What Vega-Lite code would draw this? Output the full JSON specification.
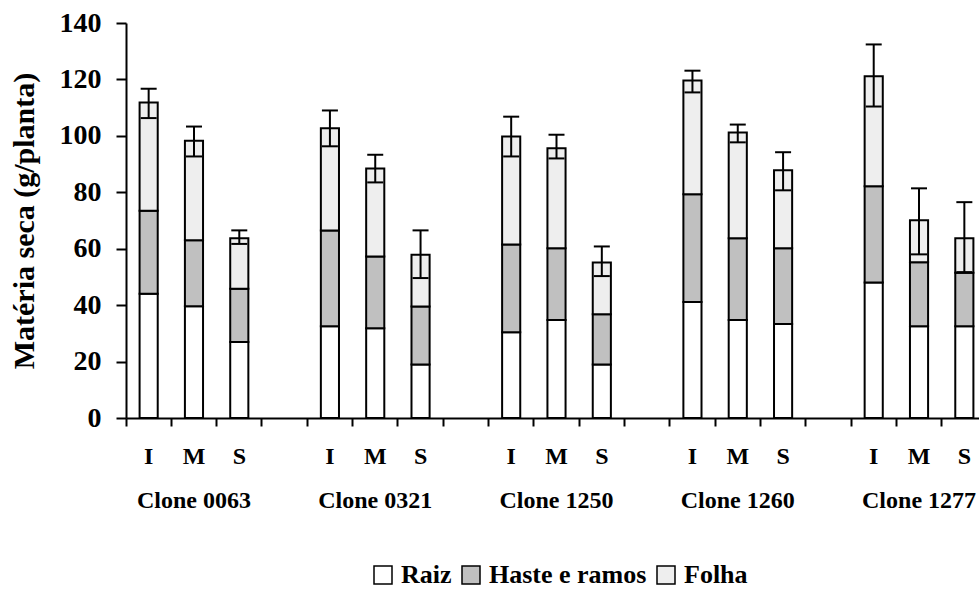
{
  "$schema": "https://vega.github.io/schema/vega-lite/v6.json",
  "width": 853,
  "height": 395,
  "autosize": {"type": "none"},
  "padding": {"left": 126, "top": 23, "right": 0, "bottom": 174},
  "background": "white",
  "config": {"view": {"stroke": null}, "font": "Liberation Serif"},
  "datasets": {
    "bars": [
      {"cat": "0063-I", "parte": "Raiz", "ord": 1, "valor": 44.0},
      {"cat": "0063-I", "parte": "Haste e ramos", "ord": 2, "valor": 29.5},
      {"cat": "0063-I", "parte": "Folha", "ord": 3, "valor": 38.3},
      {"cat": "0063-M", "parte": "Raiz", "ord": 1, "valor": 39.6},
      {"cat": "0063-M", "parte": "Haste e ramos", "ord": 2, "valor": 23.4},
      {"cat": "0063-M", "parte": "Folha", "ord": 3, "valor": 35.3},
      {"cat": "0063-S", "parte": "Raiz", "ord": 1, "valor": 26.9},
      {"cat": "0063-S", "parte": "Haste e ramos", "ord": 2, "valor": 18.9},
      {"cat": "0063-S", "parte": "Folha", "ord": 3, "valor": 17.9},
      {"cat": "0321-I", "parte": "Raiz", "ord": 1, "valor": 32.5},
      {"cat": "0321-I", "parte": "Haste e ramos", "ord": 2, "valor": 34.0},
      {"cat": "0321-I", "parte": "Folha", "ord": 3, "valor": 36.2},
      {"cat": "0321-M", "parte": "Raiz", "ord": 1, "valor": 31.8},
      {"cat": "0321-M", "parte": "Haste e ramos", "ord": 2, "valor": 25.4},
      {"cat": "0321-M", "parte": "Folha", "ord": 3, "valor": 31.2},
      {"cat": "0321-S", "parte": "Raiz", "ord": 1, "valor": 19.0},
      {"cat": "0321-S", "parte": "Haste e ramos", "ord": 2, "valor": 20.5},
      {"cat": "0321-S", "parte": "Folha", "ord": 3, "valor": 18.4},
      {"cat": "1250-I", "parte": "Raiz", "ord": 1, "valor": 30.4},
      {"cat": "1250-I", "parte": "Haste e ramos", "ord": 2, "valor": 31.1},
      {"cat": "1250-I", "parte": "Folha", "ord": 3, "valor": 38.3},
      {"cat": "1250-M", "parte": "Raiz", "ord": 1, "valor": 34.7},
      {"cat": "1250-M", "parte": "Haste e ramos", "ord": 2, "valor": 25.5},
      {"cat": "1250-M", "parte": "Folha", "ord": 3, "valor": 35.4},
      {"cat": "1250-S", "parte": "Raiz", "ord": 1, "valor": 19.0},
      {"cat": "1250-S", "parte": "Haste e ramos", "ord": 2, "valor": 17.8},
      {"cat": "1250-S", "parte": "Folha", "ord": 3, "valor": 18.3},
      {"cat": "1260-I", "parte": "Raiz", "ord": 1, "valor": 41.1},
      {"cat": "1260-I", "parte": "Haste e ramos", "ord": 2, "valor": 38.2},
      {"cat": "1260-I", "parte": "Folha", "ord": 3, "valor": 40.3},
      {"cat": "1260-M", "parte": "Raiz", "ord": 1, "valor": 34.7},
      {"cat": "1260-M", "parte": "Haste e ramos", "ord": 2, "valor": 29.0},
      {"cat": "1260-M", "parte": "Folha", "ord": 3, "valor": 37.5},
      {"cat": "1260-S", "parte": "Raiz", "ord": 1, "valor": 33.3},
      {"cat": "1260-S", "parte": "Haste e ramos", "ord": 2, "valor": 26.9},
      {"cat": "1260-S", "parte": "Folha", "ord": 3, "valor": 27.6},
      {"cat": "1277-I", "parte": "Raiz", "ord": 1, "valor": 48.0},
      {"cat": "1277-I", "parte": "Haste e ramos", "ord": 2, "valor": 34.1},
      {"cat": "1277-I", "parte": "Folha", "ord": 3, "valor": 39.0},
      {"cat": "1277-M", "parte": "Raiz", "ord": 1, "valor": 32.5},
      {"cat": "1277-M", "parte": "Haste e ramos", "ord": 2, "valor": 22.7},
      {"cat": "1277-M", "parte": "Folha", "ord": 3, "valor": 14.9},
      {"cat": "1277-S", "parte": "Raiz", "ord": 1, "valor": 32.5},
      {"cat": "1277-S", "parte": "Haste e ramos", "ord": 2, "valor": 19.0},
      {"cat": "1277-S", "parte": "Folha", "ord": 3, "valor": 12.2}
    ],
    "err": [
      {"cat": "0063-I", "lo": 106.3, "hi": 116.7},
      {"cat": "0063-M", "lo": 92.7, "hi": 103.3},
      {"cat": "0063-S", "lo": 61.7, "hi": 66.5},
      {"cat": "0321-I", "lo": 96.3, "hi": 109.0},
      {"cat": "0321-M", "lo": 83.5, "hi": 93.3},
      {"cat": "0321-S", "lo": 49.6, "hi": 66.5},
      {"cat": "1250-I", "lo": 92.7, "hi": 106.8},
      {"cat": "1250-M", "lo": 92.0, "hi": 100.4},
      {"cat": "1250-S", "lo": 50.3, "hi": 60.8},
      {"cat": "1260-I", "lo": 115.4, "hi": 123.1},
      {"cat": "1260-M", "lo": 97.7, "hi": 104.0},
      {"cat": "1260-S", "lo": 80.7, "hi": 94.2},
      {"cat": "1277-I", "lo": 110.4, "hi": 132.4},
      {"cat": "1277-M", "lo": 58.0, "hi": 81.4},
      {"cat": "1277-S", "lo": 51.7, "hi": 76.5}
    ]
  },
  "layer": [
    {
      "data": {"name": "bars"},
      "mark": {"type": "bar", "stroke": "black", "strokeWidth": 2, "width": {"band": 0.4}},
      "encoding": {
        "x": {
          "field": "cat", "type": "nominal", "sort": null,
          "scale": {
            "domain": ["0063-I", "0063-M", "0063-S", "g1", "0321-I", "0321-M", "0321-S", "g2", "1250-I", "1250-M", "1250-S", "g3", "1260-I", "1260-M", "1260-S", "g4", "1277-I", "1277-M", "1277-S"],
            "range": [0, 861], "paddingInner": 0, "paddingOuter": 0
          },
          "axis": {
            "title": null, "orient": "bottom", "bandPosition": 0, "labelOffset": 0.01,
            "labelExpr": "indexof(datum.value, 'g') == 0 ? '' : (slice(datum.value, 5) == 'M' ? ['M', 'Clone ' + slice(datum.value, 0, 4)] : slice(datum.value, 5))",
            "labelAngle": 0, "labelFont": "Liberation Serif", "labelFontWeight": "bold", "labelFontSize": 24, "labelColor": "black", "labelLineHeight": 44,
            "labelPadding": 18, "tickSize": 8, "tickWidth": 2, "tickColor": "black",
            "domainColor": "black", "domainWidth": 2, "grid": false
          }
        },
        "y": {
          "field": "valor", "type": "quantitative", "stack": "zero",
          "scale": {"domain": [0, 140], "nice": false},
          "axis": {
            "title": "Matéria seca (g/planta)", "titleFont": "Liberation Serif", "titleFontSize": 30, "titleFontWeight": "bold", "titleColor": "black", "titlePadding": 20,
            "values": [0, 20, 40, 60, 80, 100, 120, 140],
            "labelFont": "Liberation Serif", "labelFontSize": 28, "labelFontWeight": "bold", "labelColor": "black", "labelPadding": 15,
            "tickSize": 10, "tickWidth": 2, "tickColor": "black", "domainColor": "black", "domainWidth": 2, "grid": false
          }
        },
        "fill": {
          "field": "parte", "type": "nominal",
          "scale": {"domain": ["Raiz", "Haste e ramos", "Folha"], "range": ["#ffffff", "#c0c0c0", "#eeeeee"]},
          "legend": {
            "title": null, "orient": "none", "legendX": 244, "legendY": 539, "direction": "horizontal",
            "symbolType": "square", "symbolSize": 324, "symbolStrokeColor": "black", "symbolStrokeWidth": 1.5, "symbolOpacity": 1,
            "labelFont": "Liberation Serif", "labelFontSize": 26, "labelFontWeight": "bold", "labelColor": "black", "labelOffset": 5, "labelLimit": 400, "columnPadding": 6
          }
        },
        "order": {"field": "ord", "type": "quantitative"}
      }
    },
    {
      "data": {"name": "err"},
      "mark": {"type": "rule", "strokeWidth": 2, "color": "black"},
      "encoding": {
        "x": {"field": "cat", "type": "nominal", "sort": null},
        "y": {"field": "lo", "type": "quantitative"},
        "y2": {"field": "hi"}
      }
    },
    {
      "data": {"name": "err"},
      "mark": {"type": "tick", "size": 16, "thickness": 2, "color": "black", "opacity": 1},
      "encoding": {
        "x": {"field": "cat", "type": "nominal", "sort": null},
        "y": {"field": "lo", "type": "quantitative"}
      }
    },
    {
      "data": {"name": "err"},
      "mark": {"type": "tick", "size": 16, "thickness": 2, "color": "black", "opacity": 1},
      "encoding": {
        "x": {"field": "cat", "type": "nominal", "sort": null},
        "y": {"field": "hi", "type": "quantitative"}
      }
    }
  ]
}
